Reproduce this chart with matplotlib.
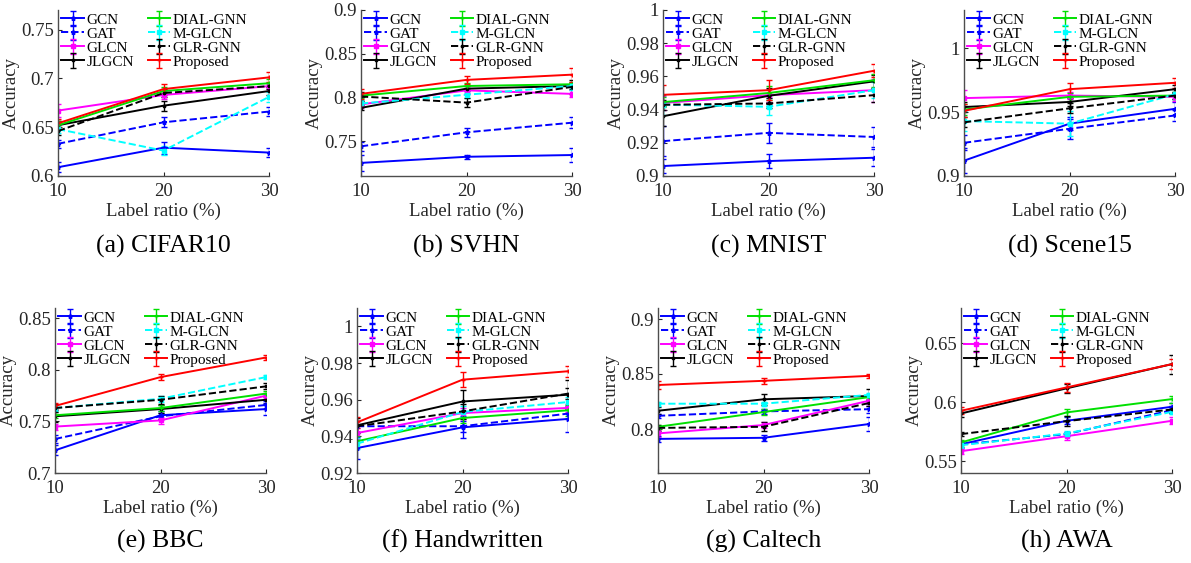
import matplotlib
matplotlib.use("Agg")
import matplotlib.pyplot as plt
from matplotlib.ticker import FuncFormatter

plt.rcParams['font.family'] = ['Liberation Serif', 'DejaVu Serif']

ratios = [10, 20, 30]
methods = ["GCN", "GAT", "GLCN", "JLGCN", "DIAL-GNN", "M-GLCN", "GLR-GNN", "Proposed"]
colors = ["#0000ff", "#0000ff", "#ff00ff", "#000000", "#00e000", "#00ffff", "#000000", "#ff0000"]
styles = ["-", "--", "-", "-", "-", "--", "--", "-"]
markers = ["*", "*", "s", ".", "+", "s", ".", "+"]

captions = ["(a) CIFAR10", "(b) SVHN", "(c) MNIST", "(d) Scene15",
            "(e) BBC", "(f) Handwritten", "(g) Caltech", "(h) AWA"]

# accuracy per dataset, rows in the order of `methods`
cifar10 = [[0.609, 0.629, 0.624], [0.633, 0.655, 0.666], [0.667, 0.683, 0.692], [0.652, 0.672, 0.687],
           [0.652, 0.687, 0.695], [0.648, 0.626, 0.681], [0.646, 0.685, 0.692], [0.654, 0.689, 0.701]]
svhn = [[0.725, 0.732, 0.734], [0.744, 0.760, 0.771], [0.792, 0.808, 0.804], [0.788, 0.810, 0.813],
        [0.802, 0.813, 0.815], [0.793, 0.803, 0.813], [0.801, 0.794, 0.812], [0.804, 0.820, 0.826]]
mnist = [[0.906, 0.909, 0.911], [0.921, 0.926, 0.9235], [0.944, 0.9487, 0.9517], [0.936, 0.9483, 0.957],
         [0.9445, 0.950, 0.9577], [0.943, 0.9417, 0.9517], [0.9429, 0.9437, 0.9487], [0.9489, 0.9517, 0.9634]]
scene15 = [[0.912, 0.941, 0.9526], [0.926, 0.937, 0.9474], [0.961, 0.963, 0.962], [0.954, 0.958, 0.968],
           [0.952, 0.962, 0.963], [0.943, 0.941, 0.964], [0.942, 0.953, 0.963], [0.951, 0.968, 0.973]]
bbc = [[0.722, 0.756, 0.762], [0.733, 0.755, 0.766], [0.745, 0.751, 0.775], [0.755, 0.762, 0.771],
       [0.756, 0.763, 0.777], [0.763, 0.772, 0.793], [0.763, 0.771, 0.784], [0.765, 0.793, 0.812]]
handwritten = [[0.9336, 0.9449, 0.9495], [0.9455, 0.9455, 0.9524], [0.9418, 0.9527, 0.9555], [0.946, 0.959, 0.9627],
               [0.9373, 0.950, 0.9542], [0.936, 0.9533, 0.9587], [0.9455, 0.9536, 0.9633], [0.9476, 0.9709, 0.9755]]
caltech = [[0.791, 0.792, 0.8045], [0.812, 0.816, 0.818], [0.796, 0.8036, 0.8257], [0.8166, 0.827, 0.830],
           [0.802, 0.8154, 0.829], [0.823, 0.823, 0.831], [0.801, 0.802, 0.8236], [0.840, 0.8438, 0.8483]]
awa = [[0.5644, 0.5843, 0.5962], [0.5642, 0.573, 0.5933], [0.5585, 0.5712, 0.5843], [0.5905, 0.6118, 0.6324],
       [0.5659, 0.5914, 0.6027], [0.5636, 0.5735, 0.5919], [0.573, 0.584, 0.5939], [0.5928, 0.6126, 0.6324]]

# standard deviations (error bars)
cifar10_err = [[0.005, 0.006, 0.005], [0.004, 0.005, 0.005], [0.007, 0.004, 0.003], [0.004, 0.005, 0.004],
               [0.004, 0.004, 0.004], [0.004, 0.005, 0.005], [0.004, 0.004, 0.003], [0.004, 0.005, 0.005]]
svhn_err = [[0.009, 0.002, 0.008], [0.005, 0.005, 0.006], [0.004, 0.003, 0.004], [0.003, 0.003, 0.003],
            [0.003, 0.003, 0.003], [0.004, 0.004, 0.004], [0.005, 0.005, 0.008], [0.006, 0.005, 0.008]]
mnist_err = [[0.004, 0.004, 0.005], [0.009, 0.006, 0.006], [0.004, 0.004, 0.007], [0.006, 0.005, 0.004],
             [0.003, 0.004, 0.004], [0.006, 0.005, 0.005], [0.003, 0.003, 0.004], [0.006, 0.006, 0.004]]
scene15_err = [[0.010, 0.005, 0.005], [0.006, 0.008, 0.004], [0.006, 0.003, 0.003], [0.004, 0.003, 0.003],
               [0.004, 0.003, 0.003], [0.008, 0.010, 0.004], [0.004, 0.004, 0.003], [0.005, 0.005, 0.004]]
bbc_err = [[0.005, 0.004, 0.006], [0.004, 0.003, 0.004], [0.003, 0.003, 0.003], [0.006, 0.004, 0.004],
           [0.003, 0.003, 0.003], [0.003, 0.003, 0.002], [0.004, 0.004, 0.003], [0.003, 0.003, 0.002]]
handwritten_err = [[0.006, 0.006, 0.007], [0.003, 0.003, 0.003], [0.003, 0.003, 0.002], [0.004, 0.006, 0.008],
                   [0.003, 0.003, 0.003], [0.003, 0.003, 0.003], [0.003, 0.004, 0.003], [0.003, 0.004, 0.003]]
caltech_err = [[0.003, 0.003, 0.006], [0.002, 0.002, 0.003], [0.003, 0.003, 0.003], [0.003, 0.005, 0.006],
               [0.002, 0.003, 0.002], [0.002, 0.002, 0.002], [0.003, 0.004, 0.003], [0.004, 0.003, 0.002]]
awa_err = [[0.003, 0.003, 0.003], [0.002, 0.002, 0.002], [0.002, 0.003, 0.003], [0.003, 0.004, 0.008],
           [0.002, 0.003, 0.003], [0.002, 0.002, 0.002], [0.002, 0.004, 0.003], [0.003, 0.004, 0.004]]

datasets = [cifar10, svhn, mnist, scene15, bbc, handwritten, caltech, awa]
errors = [cifar10_err, svhn_err, mnist_err, scene15_err, bbc_err, handwritten_err, caltech_err, awa_err]
ylims = [(0.6, 0.77), (0.71, 0.9), (0.9, 1.0), (0.9, 1.03),
         (0.7, 0.86), (0.92, 1.01), (0.76, 0.91), (0.54, 0.68)]
yticks = [[0.6, 0.65, 0.7, 0.75], [0.75, 0.8, 0.85, 0.9], [0.9, 0.92, 0.94, 0.96, 0.98, 1.0], [0.9, 0.95, 1.0],
          [0.7, 0.75, 0.8, 0.85], [0.92, 0.94, 0.96, 0.98, 1.0], [0.8, 0.85, 0.9], [0.55, 0.6, 0.65]]

W, H = 1191, 563
lefts = [58, 361, 663, 964, 55, 357, 658, 961]
tops = [10, 10, 10, 10, 308, 308, 308, 308]
bottoms = [176, 176, 176, 176, 473, 473, 473, 473]
aw = 211

fig = plt.figure(figsize=(W / 100, H / 100), dpi=100)

for k in range(8):
    ax = fig.add_axes([lefts[k] / W, 1 - bottoms[k] / H, aw / W, (bottoms[k] - tops[k]) / H])
    for i, m in enumerate(methods):
        ax.errorbar(ratios, datasets[k][i], yerr=errors[k][i], color=colors[i], ls=styles[i],
                    marker=markers[i], ms=3.5, lw=1.4, elinewidth=1.0, capsize=2, capthick=1.0,
                    label=m)
    ax.set_xlim(10, 30)
    ax.set_ylim(*ylims[k])
    ax.set_xticks(ratios)
    ax.set_yticks(yticks[k])
    ax.yaxis.set_major_formatter(FuncFormatter(lambda v, p: ('%g' % round(v, 4))))
    ax.spines['top'].set_visible(False)
    ax.spines['right'].set_visible(False)
    for s in ['left', 'bottom']:
        ax.spines[s].set_color('0.3')
        ax.spines[s].set_linewidth(1.0)
    ax.tick_params(direction='in', length=3, labelsize=13.5, colors='0.15', pad=3)
    ax.tick_params(axis='x', pad=5)
    ax.set_xlabel("Label ratio (%)", fontsize=13.5, color='0.15', labelpad=2)
    ax.set_ylabel("Accuracy", fontsize=13.5, color='0.15', labelpad=1)
    ax.legend(ncol=2, loc='upper left', bbox_to_anchor=(0.0, 1.0), frameon=False, fontsize=11,
              handlelength=1.5, handletextpad=0.15, labelspacing=0.02, columnspacing=0.9,
              borderaxespad=0.1, borderpad=0.1)
    cx = (lefts[k] + aw / 2) / W
    cy = 1 - (246 if k < 4 else 541) / H
    fig.text(cx, cy, captions[k], ha='center', va='center', fontsize=18.5)

fig.savefig("out.png", dpi=100)
